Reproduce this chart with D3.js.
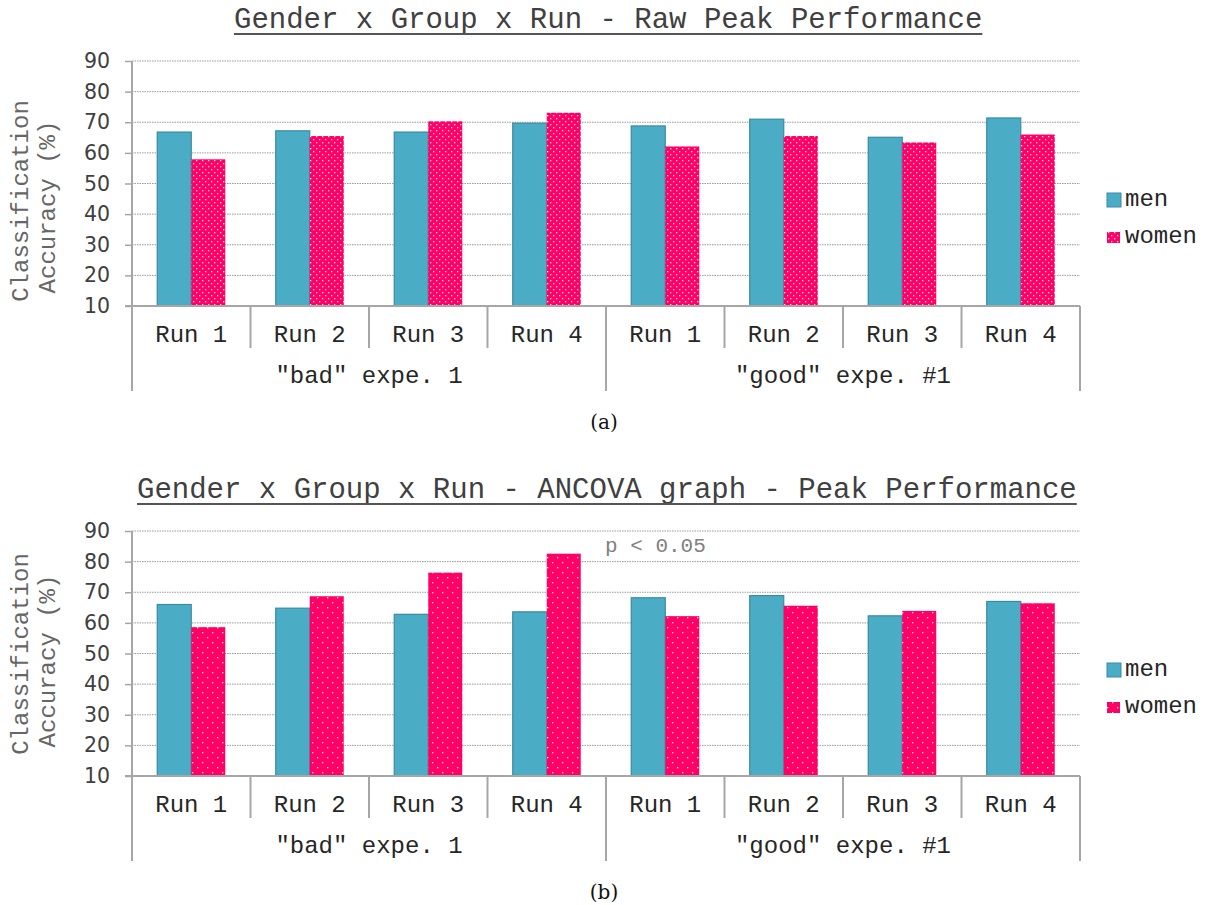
<!DOCTYPE html>
<html>
<head>
<meta charset="utf-8">
<script src="https://cdn.jsdelivr.net/npm/d3@7"></script>
<style>
  body { margin: 0; background: #fff; }
  svg { display: block; }
</style>
</head>
<body>
<svg id="fig" width="1205" height="905"></svg>
<script>
// Categories
const runs = ['Run 1', 'Run 2', 'Run 3', 'Run 4'];
const groups = ['"bad" expe. 1', '"good" expe. #1'];
const seriesNames = ['men', 'women'];
const yTicks = [10, 20, 30, 40, 50, 60, 70, 80, 90];

// (a) raw peak performance, 8 bars per series (bad run1..4, good run1..4)
const rawMen = [66.8, 67.2, 66.8, 69.7, 68.8, 71.0, 65.1, 71.4];
const rawWomen = [57.9, 65.5, 70.3, 73.1, 62.1, 65.5, 63.4, 66.0];

// (b) ANCOVA adjusted
const ancovaMen = [66.0, 64.8, 62.8, 63.6, 68.2, 68.9, 62.3, 67.0];
const ancovaWomen = [58.6, 68.7, 76.4, 82.6, 62.2, 65.6, 63.9, 66.4];

const MONO = '"Liberation Mono", "Courier New", monospace';
const svg = d3.select('#fig');
const defs = svg.append('defs');

// dotted pink fills for the women series
function dotPattern(id, size, dots) {
    const p = defs.append('pattern')
        .attr('id', id)
        .attr('patternUnits', 'userSpaceOnUse')
        .attr('width', size)
        .attr('height', size);
    p.append('rect').attr('width', size).attr('height', size).attr('fill', '#ff0066');
    dots.forEach(d => {
        p.append('rect')
            .attr('x', d[0]).attr('y', d[1])
            .attr('width', 1.3).attr('height', 1.3)
            .attr('fill', '#ffffff').attr('opacity', 0.85);
    });
}
dotPattern('dotsDense', 6, [[1, 1], [4, 4]]);
dotPattern('dotsWide', 10, [[2, 2], [7, 7]]);

function drawChart(cfg) {
    const left = 132, right = 1080;
    const top = cfg.top, bottom = cfg.top + 245;
    const g = svg.append('g');

    const y = d3.scaleLinear().domain([10, 90]).range([bottom, top]);
    const cats = d3.range(runs.length * groups.length);
    const x = d3.scaleBand().domain(cats).range([left, right])
        .paddingInner(0.426).paddingOuter(0.213);
    const xs = d3.scaleBand().domain(seriesNames).range([0, x.bandwidth()]);

    // title
    const title = g.append('text')
        .attr('x', cfg.titleX)
        .attr('y', top - 33)
        .attr('font-family', MONO)
        .attr('font-size', 29)
        .attr('fill', '#404040')
        .text(cfg.title);
    const tw = title.node().getComputedTextLength();
    g.append('line')
        .attr('x1', cfg.titleX).attr('x2', cfg.titleX + tw)
        .attr('y1', top - 27).attr('y2', top - 27)
        .attr('stroke', '#555').attr('stroke-width', 2);

    // grid lines (dotted), skip the baseline
    g.append('g')
        .selectAll('line')
        .data(yTicks.filter(t => t > 10))
        .join('line')
        .attr('x1', left).attr('x2', right)
        .attr('y1', d => y(d)).attr('y2', d => y(d))
        .attr('stroke', '#9a9a9a')
        .attr('stroke-width', 1)
        .attr('stroke-dasharray', '1.5,1');

    // y axis
    const yAxis = g.append('g')
        .attr('transform', `translate(${left},0)`)
        .call(d3.axisLeft(y).tickValues(yTicks).tickSize(7).tickPadding(15));
    yAxis.select('.domain').remove();
    yAxis.selectAll('line').attr('stroke', '#a6a6a6').attr('stroke-width', 1.5);
    yAxis.selectAll('text')
        .attr('fill', '#404040')
        .style('font-family', '"DejaVu Sans", Verdana, sans-serif')
        .style('font-size', '20.5px');

    // y axis title (two lines, rotated)
    g.append('text')
        .attr('transform', `translate(28,${cfg.yTitle1}) rotate(-90)`)
        .attr('text-anchor', 'middle')
        .attr('font-family', MONO).attr('font-size', 24)
        .attr('fill', '#666')
        .text('Classification');
    g.append('text')
        .attr('transform', `translate(55,${cfg.yTitle2}) rotate(-90)`)
        .attr('text-anchor', 'middle')
        .attr('font-family', MONO).attr('font-size', 24)
        .attr('fill', '#666')
        .text('Accuracy (%)');

    // bars
    const data = cats.map(i => ({ i, men: cfg.men[i], women: cfg.women[i] }));
    g.append('g').selectAll('rect')
        .data(data)
        .join('rect')
        .attr('x', d => x(d.i) + xs('men'))
        .attr('y', d => y(d.men))
        .attr('width', xs.bandwidth())
        .attr('height', d => y(10) - y(d.men))
        .attr('fill', '#4bacc6')
        .attr('stroke', '#3a8ba3')
        .attr('stroke-width', 1.2);
    g.append('g').selectAll('rect')
        .data(data)
        .join('rect')
        .attr('x', d => x(d.i) + xs('women'))
        .attr('y', d => y(d.women))
        .attr('width', xs.bandwidth())
        .attr('height', d => y(10) - y(d.women))
        .attr('fill', `url(#${cfg.pattern})`);

    // axis baseline + vertical axis line
    const line = (x1, y1, x2, y2) => g.append('line')
        .attr('x1', x1).attr('y1', y1).attr('x2', x2).attr('y2', y2)
        .attr('stroke', '#a6a6a6').attr('stroke-width', 2);
    line(left - 7, bottom, right, bottom);
    line(left, top, left, bottom + 85);

    // category separators and labels
    const step = x.step();
    cats.forEach(i => {
        const x0 = left + i * step;
        if (i % runs.length === 0) {
            if (i > 0) line(x0, bottom, x0, bottom + 85);
        } else {
            line(x0, bottom, x0, bottom + 42);
        }
        g.append('text')
            .attr('x', x0 + step / 2)
            .attr('y', bottom + 35.5)
            .attr('text-anchor', 'middle')
            .attr('font-family', MONO).attr('font-size', 24)
            .attr('fill', '#262626')
            .text(runs[i % runs.length]);
    });
    line(right, bottom, right, bottom + 85);

    groups.forEach((name, k) => {
        g.append('text')
            .attr('x', left + (k + 0.5) * runs.length * step)
            .attr('y', bottom + 77)
            .attr('text-anchor', 'middle')
            .attr('font-family', MONO).attr('font-size', 24)
            .attr('fill', '#262626')
            .text(name);
    });

    // legend
    g.append('rect')
        .attr('x', 1107).attr('y', top + 132)
        .attr('width', 14).attr('height', 14)
        .attr('fill', '#4bacc6').attr('stroke', '#3a8ba3');
    g.append('rect')
        .attr('x', 1107).attr('y', top + 171)
        .attr('width', 13).attr('height', 11)
        .attr('fill', `url(#${cfg.pattern})`);
    g.append('text')
        .attr('x', 1125).attr('y', top + 145)
        .attr('font-family', MONO).attr('font-size', 24)
        .attr('fill', '#262626')
        .text(seriesNames[0]);
    g.append('text')
        .attr('x', 1125).attr('y', top + 182)
        .attr('font-family', MONO).attr('font-size', 24)
        .attr('fill', '#262626')
        .text(seriesNames[1]);

    if (cfg.note) {
        g.append('text')
            .attr('x', 605).attr('y', top + 21)
            .attr('font-family', MONO).attr('font-size', 21)
            .attr('fill', '#808080')
            .text(cfg.note);
    }

    // sub-figure caption
    g.append('text')
        .attr('x', 604).attr('y', bottom + 123)
        .attr('text-anchor', 'middle')
        .attr('font-family', '"DejaVu Serif", "Liberation Serif", serif')
        .attr('font-size', 20)
        .attr('fill', '#111')
        .text(cfg.caption);
}

drawChart({
    top: 61,
    title: 'Gender x Group x Run - Raw Peak Performance',
    titleX: 234,
    men: rawMen,
    women: rawWomen,
    pattern: 'dotsDense',
    yTitle1: 201,
    yTitle2: 207,
    caption: '(a)'
});

drawChart({
    top: 531,
    title: 'Gender x Group x Run - ANCOVA graph - Peak Performance',
    titleX: 137,
    men: ancovaMen,
    women: ancovaWomen,
    pattern: 'dotsWide',
    note: 'p < 0.05',
    yTitle1: 654,
    yTitle2: 661,
    caption: '(b)'
});
</script>
</body>
</html>
